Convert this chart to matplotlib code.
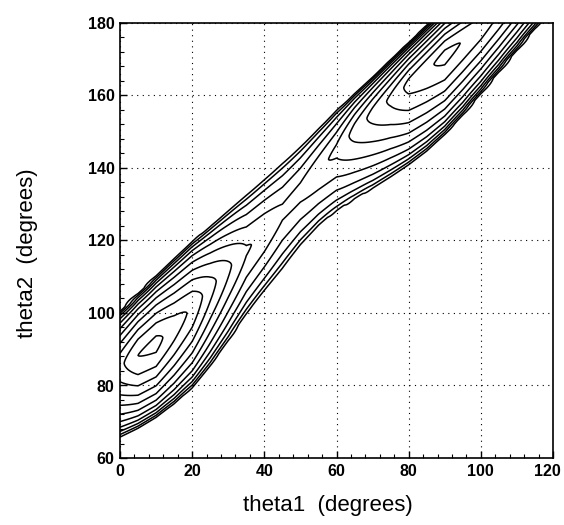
import numpy as np
import matplotlib.pyplot as plt
import matplotlib.transforms as mtransforms

plt.rcParams['font.family'] = ['Liberation Sans', 'DejaVu Sans']

# columns of the field (theta1, degrees) and what each column looks like,
# read off the contour picture: ridge centre (theta2), ridge height (in
# contour-level units), and how far the ridge reaches below / above its centre
theta1_cols = [0, 5, 10, 15, 20, 25, 30, 35, 40, 45, 50, 55, 60,
               65, 70, 75, 80, 85, 90, 95, 100, 105, 110, 115, 120]
ridge_center = [85.5, 88.3, 91.5, 96, 101.5, 107, 112.3, 117.3, 122.5, 128, 133.5, 139.2, 145,
                150.5, 155.2, 159.3, 163.2, 167.1, 171, 175, 179, 183, 187, 191, 195]
ridge_height = [9.7, 11.0, 11.3, 10.5, 9.8, 8.4, 7.2, 6.1, 5.75, 5.2, 5.3, 5.75, 6.2,
                7.35, 8.3, 9.2, 10.3, 10.8, 11.3, 10.95, 10.6, 10.0, 9.3, 8.5, 7.7]
reach_below = [20.3, 20.6, 20.8, 21.6, 22.8, 22.3, 20.7, 18.4, 17.1, 16.6, 15.5, 15.8, 17.6,
               19.7, 21.5, 22.4, 22.9, 23.0, 22.3, 20.9, 19.0, 17.0, 15.0, 13.0, 11.0]
reach_above = [15.4, 17.5, 19.2, 19.5, 18.7, 17.4, 16.5, 15.9, 15.0, 14.0, 13.0, 12.2, 11.4,
               10.4, 10.2, 10.9, 11.7, 12.6, 13.5, 13.5, 13.5, 13.5, 13.5, 13.5, 13.5]
contour_levels = [1, 2, 3, 4, 5, 6, 7, 8, 9, 10, 11]

# grid sheared along the ridge; each column has a rounded crest and
# drops steeply at the edge of the band
offsets = np.arange(-40, 40.01, 0.25)
X, D = np.meshgrid(np.array(theta1_cols, float), offsets)
Y = np.array(ridge_center)[None, :] + D
R = np.where(D < 0, np.array(reach_below)[None, :], np.array(reach_above)[None, :])
t = np.clip(np.abs(D) / R, 0, 1)
Z = np.array(ridge_height)[None, :] * np.clip(1 - 0.7 * t ** 1.5 - 0.3 * t ** 10, 0, None)

fig = plt.figure(figsize=(5.64, 5.25), dpi=100)
ax = fig.add_axes([120 / 564, 1 - 458 / 525, 433 / 564, 435 / 525])

ax.contour(X, Y, Z, levels=contour_levels, colors='black', linewidths=1.1)

ax.set_xlim(0, 120)
ax.set_ylim(60, 180)
ax.set_xticks(range(0, 121, 20))
ax.set_yticks(range(60, 181, 20))
ax.set_xticks(range(0, 121, 4), minor=True)
ax.set_yticks(range(60, 181, 4), minor=True)
ax.tick_params(which='both', direction='in', top=False, right=False, color='black')
ax.tick_params(which='major', length=5, width=1, labelsize=11.5, pad=4)
ax.tick_params(which='minor', length=3, width=0.8)
for lab in ax.get_xticklabels() + ax.get_yticklabels():
    lab.set_fontweight('bold')
# keep the last x label inside the figure
last = ax.xaxis.get_major_ticks()[-1].label1
last.set_transform(last.get_transform() + mtransforms.ScaledTranslation(-4 / 72, 0, fig.dpi_scale_trans))

ax.grid(True, which='major', color='black', linestyle=(0, (1, 4)), linewidth=0.8)
for sp in ax.spines.values():
    sp.set_linewidth(1.2)

ax.set_xlabel('theta1  (degrees)', fontsize=16)
ax.set_ylabel('theta2  (degrees)', fontsize=16)
ax.xaxis.set_label_coords(0.48, -0.085)
ax.yaxis.set_label_coords(-0.19, 0.47)

fig.savefig('out.png', dpi=100)
